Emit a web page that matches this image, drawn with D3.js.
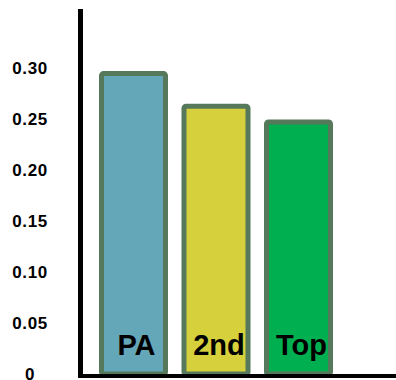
<!DOCTYPE html>
<html>
<head>
<meta charset="utf-8">
<script src="https://cdn.jsdelivr.net/npm/d3@7"></script>
<style>
  html, body { margin: 0; padding: 0; background: #ffffff; }
  svg { display: block; }
  text { font-family: "Liberation Sans", Arial, sans-serif; font-weight: bold; fill: #000; }
</style>
</head>
<body>
<script>
// Categories and their values
const categories = ["PA", "2nd", "Top"];
const values = [0.295, 0.263, 0.2475];
const barColors = ["#64a7b9", "#d5d03b", "#00b050"];

// Y tick values and their labels
const tickValues = [0, 0.05, 0.10, 0.15, 0.20, 0.25, 0.30];
const tickLabels = ["0", "0.05", "0.10", "0.15", "0.20", "0.25", "0.30"];

const width = 396, height = 380;

const svg = d3.select("body").append("svg")
  .attr("width", width)
  .attr("height", height);

const y = d3.scaleLinear().domain([0, 0.30]).range([374, 68.5]);

const x = d3.scaleBand()
  .domain(categories)
  .range([101.5, 330.5])
  .paddingInner(0.2242)
  .paddingOuter(0);

// Bars
svg.append("g").selectAll("rect")
  .data(categories)
  .join("rect")
  .attr("x", d => x(d))
  .attr("y", (d, i) => y(values[i]))
  .attr("width", x.bandwidth())
  .attr("height", (d, i) => y(0) - y(values[i]))
  .attr("rx", 2)
  .attr("fill", (d, i) => barColors[i])
  .attr("stroke", "#56795b")
  .attr("stroke-width", 5);

// Category labels inside the bars
svg.append("g").selectAll("text")
  .data(categories)
  .join("text")
  .attr("x", d => x(d) + x.bandwidth() / 2 + 3)
  .attr("y", 355)
  .attr("text-anchor", "middle")
  .style("font-size", "29px")
  .text(d => d);

// Y axis labels (no tick marks)
const yAxis = d3.axisLeft(y)
  .tickValues(tickValues)
  .tickFormat((d, i) => tickLabels[i])
  .tickSize(0)
  .tickPadding(0);

const gy = svg.append("g")
  .attr("transform", "translate(30,0)")
  .call(yAxis);
gy.select(".domain").remove();
gy.selectAll("text")
  .attr("text-anchor", "middle")
  .attr("dy", "0.3em")
  .attr("font-family", null)
  .attr("font-size", null)
  .style("font-size", "17px")
  .style("letter-spacing", "0.6px");

// Axis lines
svg.append("line")
  .attr("x1", 80.5).attr("x2", 80.5)
  .attr("y1", 9).attr("y2", 378)
  .attr("stroke", "#000").attr("stroke-width", 5);

svg.append("line")
  .attr("x1", 78).attr("x2", width)
  .attr("y1", y(0) + 2).attr("y2", y(0) + 2)
  .attr("stroke", "#000").attr("stroke-width", 4);
</script>
</body>
</html>
